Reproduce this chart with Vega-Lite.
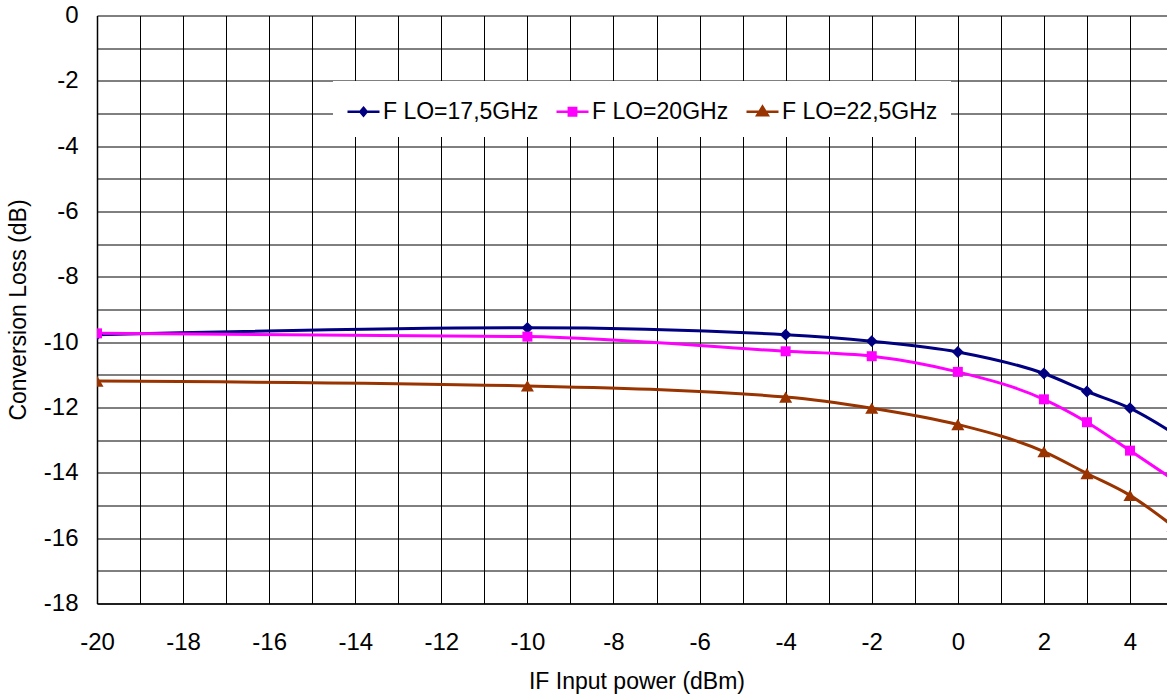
{
  "$schema": "https://vega.github.io/schema/vega-lite/v6.json",
  "width": 1070,
  "height": 588,
  "autosize": {"type": "none"},
  "padding": {"left": 97, "top": 15.5, "right": 0, "bottom": 93.5},
  "background": "white",
  "config": {"view": {"stroke": null}, "font": "Liberation Sans"},
  "data": {
    "values": [
      {"series": "F LO=17,5GHz", "p": -20, "cl": -9.77},
      {"series": "F LO=17,5GHz", "p": -10, "cl": -9.56},
      {"series": "F LO=17,5GHz", "p": -4, "cl": -9.77},
      {"series": "F LO=17,5GHz", "p": -2, "cl": -9.97},
      {"series": "F LO=17,5GHz", "p": 0, "cl": -10.3},
      {"series": "F LO=17,5GHz", "p": 2, "cl": -10.96},
      {"series": "F LO=17,5GHz", "p": 3, "cl": -11.51},
      {"series": "F LO=17,5GHz", "p": 4, "cl": -12.02},
      {"series": "F LO=17,5GHz", "p": 5, "cl": -12.78},
      {"series": "F LO=20GHz", "p": -20, "cl": -9.73},
      {"series": "F LO=20GHz", "p": -10, "cl": -9.83},
      {"series": "F LO=20GHz", "p": -4, "cl": -10.28},
      {"series": "F LO=20GHz", "p": -2, "cl": -10.43},
      {"series": "F LO=20GHz", "p": 0, "cl": -10.91},
      {"series": "F LO=20GHz", "p": 2, "cl": -11.75},
      {"series": "F LO=20GHz", "p": 3, "cl": -12.45},
      {"series": "F LO=20GHz", "p": 4, "cl": -13.32},
      {"series": "F LO=20GHz", "p": 5, "cl": -14.2},
      {"series": "F LO=22,5GHz", "p": -20, "cl": -11.19},
      {"series": "F LO=22,5GHz", "p": -10, "cl": -11.34},
      {"series": "F LO=22,5GHz", "p": -4, "cl": -11.68},
      {"series": "F LO=22,5GHz", "p": -2, "cl": -12.02},
      {"series": "F LO=22,5GHz", "p": 0, "cl": -12.52},
      {"series": "F LO=22,5GHz", "p": 2, "cl": -13.35},
      {"series": "F LO=22,5GHz", "p": 3, "cl": -14.02},
      {"series": "F LO=22,5GHz", "p": 4, "cl": -14.69},
      {"series": "F LO=22,5GHz", "p": 5, "cl": -15.63}
    ]
  },
  "encoding": {
    "x": {
      "field": "p",
      "type": "quantitative",
      "scale": {"domain": [-20, 4.86], "nice": false, "zero": false},
      "axis": {
        "values": [-20, -19, -18, -17, -16, -15, -14, -13, -12, -11, -10, -9, -8, -7, -6, -5, -4, -3, -2, -1, 0, 1, 2, 3, 4],
        "labelExpr": "datum.value % 2 === 0 ? toString(datum.value) : ''",
        "labelOverlap": false,
        "labelFlush": false,
        "labelBound": false,
        "grid": true,
        "gridColor": "black",
        "gridWidth": 1,
        "gridOpacity": 1,
        "ticks": false,
        "tickSize": 0,
        "domainColor": "black",
        "domainWidth": 1.5,
        "labelFontSize": 24,
        "labelColor": "black",
        "labelPadding": 46,
        "labelBaseline": "alphabetic",
        "title": "IF Input power (dBm)",
        "titleFontSize": 23,
        "titleFontWeight": "normal",
        "titleColor": "black",
        "titleX": 539.5,
        "titleY": 84.5,
        "titleBaseline": "alphabetic"
      }
    },
    "y": {
      "field": "cl",
      "type": "quantitative",
      "scale": {"domain": [-18, 0], "nice": false, "zero": false},
      "axis": {
        "values": [0, -1, -2, -3, -4, -5, -6, -7, -8, -9, -10, -11, -12, -13, -14, -15, -16, -17, -18],
        "labelExpr": "datum.value % 2 === 0 ? toString(datum.value) : ''",
        "labelOverlap": false,
        "labelFlush": false,
        "labelBound": false,
        "grid": true,
        "gridColor": "black",
        "gridWidth": 1,
        "gridOpacity": 1,
        "ticks": false,
        "tickSize": 0,
        "domainColor": "black",
        "domainWidth": 1.5,
        "labelFontSize": 24,
        "labelColor": "black",
        "labelPadding": 19,
        "labelBaseline": "middle",
        "title": "Conversion Loss (dB)",
        "titleFontSize": 23,
        "titleFontWeight": "normal",
        "titleColor": "black",
        "titleAngle": -90,
        "titleX": -72,
        "titleY": 294,
        "titleAlign": "center",
        "titleBaseline": "alphabetic"
      }
    },
    "color": {
      "field": "series",
      "type": "nominal",
      "scale": {"domain": ["F LO=17,5GHz", "F LO=20GHz", "F LO=22,5GHz"], "range": ["#000080", "#FF00FF", "#993300"]},
      "legend": {
        "orient": "none",
        "legendX": 236,
        "legendY": 65.5,
        "direction": "horizontal",
        "title": null,
        "fillColor": "white",
        "strokeColor": null,
        "padding": 13,
        "symbolSize": 1024,
        "symbolStrokeWidth": 2.5,
        "labelFontSize": 23,
        "labelFont": "Liberation Sans",
        "labelColor": "black",
        "labelLimit": 0,
        "labelOffset": 2,
        "columnPadding": 12,
        "encode": {
          "symbols": {
            "update": {
              "shape": {"signal": "datum.value === 'F LO=17,5GHz' ? 'M-1,0L1,0M0,-0.24L0.2,0L0,0.24L-0.2,0Z' : datum.value === 'F LO=20GHz' ? 'M-1,0L1,0M-0.23,-0.23L0.23,-0.23L0.23,0.23L-0.23,0.23Z' : 'M-1,0L1,0M0,-0.32L0.33,0.22L-0.33,0.22Z'"},
              "size": {"value": 1024},
              "stroke": {"scale": "color", "field": "value"},
              "fill": {"scale": "color", "field": "value"},
              "strokeWidth": {"value": 2.5},
              "strokeDash": {"value": []},
              "opacity": {"value": 1},
              "fillOpacity": {"value": 1},
              "strokeOpacity": {"value": 1}
            }
          }
        }
      }
    }
  },
  "layer": [
    {"mark": {"type": "line", "interpolate": "monotone", "strokeWidth": 3, "clip": true}},
    {
      "transform": [{"filter": "datum.series === 'F LO=17,5GHz'"}],
      "mark": {"type": "point", "filled": true, "opacity": 1, "clip": true, "shape": "diamond", "size": 140}
    },
    {
      "transform": [{"filter": "datum.series === 'F LO=20GHz'"}],
      "mark": {"type": "point", "filled": true, "opacity": 1, "clip": true, "shape": "square", "size": 100}
    },
    {
      "transform": [{"filter": "datum.series === 'F LO=22,5GHz'"}],
      "mark": {"type": "point", "filled": true, "opacity": 1, "clip": true, "shape": "triangle-up", "size": 170}
    }
  ]
}
